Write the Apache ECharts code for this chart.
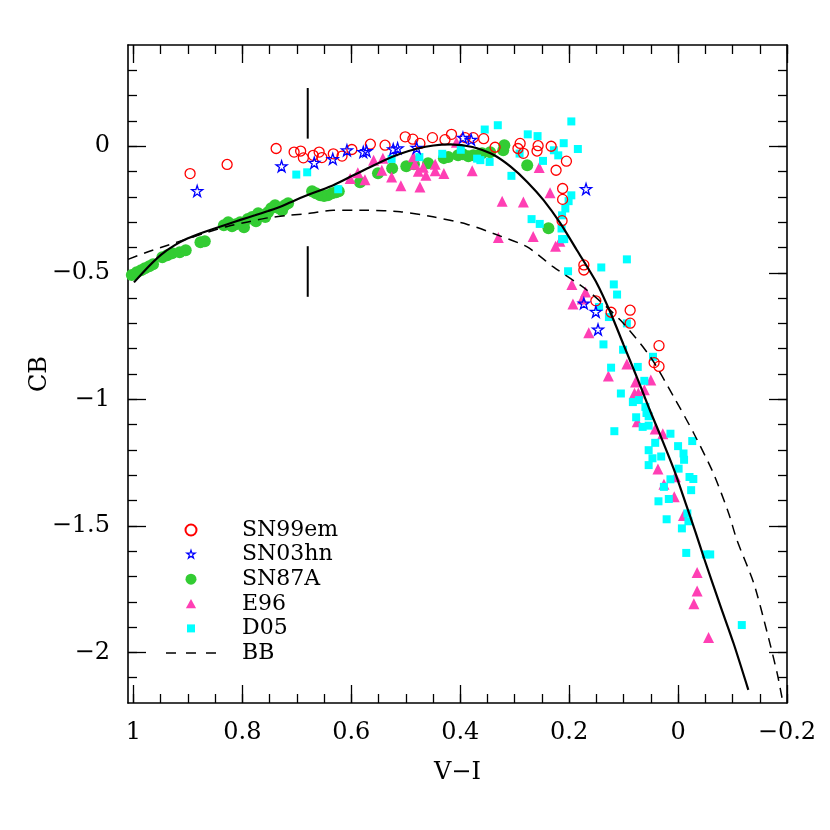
<!DOCTYPE html>
<html>
<head>
<meta charset="utf-8">
<script src="https://cdn.jsdelivr.net/npm/echarts@6/dist/echarts.min.js"></script>
<style>
  html, body { margin: 0; padding: 0; background: #fff; }
  #chart { width: 830px; height: 830px; }
</style>
</head>
<body>
<div id="chart"></div>
<script>
var sn99em = [
  [0.896,-0.108],[0.828,-0.072],[0.738,-0.009],[0.705,-0.023],[0.693,-0.019],[0.688,-0.046],
  [0.670,-0.036],[0.659,-0.023],[0.654,-0.045],[0.633,-0.030],[0.617,-0.039],[0.599,-0.013],
  [0.565,0.008],[0.538,0.004],[0.501,0.037],[0.487,0.028],[0.474,0.011],[0.451,0.034],
  [0.428,0.026],[0.416,0.047],[0.391,0.034],[0.376,0.034],[0.357,0.030],[0.336,-0.004],
  [0.290,0.011],[0.294,-0.009],[0.284,-0.028],[0.257,0.002],[0.259,-0.019],[0.233,0.000],
  [0.205,-0.059],[0.224,-0.095],[0.212,-0.167],[0.212,-0.210],[0.213,-0.294],[0.173,-0.469],
  [0.173,-0.489],[0.151,-0.611],[0.123,-0.656],[0.088,-0.648],[0.088,-0.699],[0.035,-0.788],
  [0.044,-0.855],[0.035,-0.870]
]
var sn03hn = [
  [0.883,-0.177],[0.728,-0.079],[0.668,-0.065],[0.634,-0.050],[0.608,-0.016],[0.578,-0.023],
  [0.572,-0.019],[0.523,-0.012],[0.515,-0.008],[0.480,-0.006],[0.395,0.034],[0.380,0.026],
  [0.169,-0.169],[0.173,-0.621],[0.151,-0.654],[0.147,-0.724]
]
var sn87a = [
  [1.003,-0.509],[0.994,-0.498],[0.986,-0.490],[0.979,-0.482],[0.971,-0.474],[0.964,-0.466],
  [0.947,-0.439],[0.938,-0.431],[0.929,-0.423],[0.915,-0.419],[0.904,-0.411],[0.877,-0.379],
  [0.869,-0.375],[0.834,-0.312],[0.826,-0.300],[0.819,-0.316],[0.812,-0.308],[0.804,-0.300],
  [0.797,-0.320],[0.790,-0.288],[0.782,-0.280],[0.775,-0.296],[0.771,-0.265],[0.764,-0.273],
  [0.758,-0.280],[0.753,-0.261],[0.747,-0.245],[0.740,-0.233],[0.733,-0.245],[0.727,-0.253],
  [0.722,-0.233],[0.716,-0.225],[0.672,-0.178],[0.665,-0.186],[0.657,-0.194],[0.650,-0.197],
  [0.643,-0.194],[0.635,-0.186],[0.628,-0.182],[0.623,-0.178],[0.584,-0.142],[0.551,-0.107],
  [0.525,-0.087],[0.499,-0.079],[0.485,-0.071],[0.459,-0.067],[0.430,-0.047],[0.422,-0.043],
  [0.404,-0.036],[0.395,-0.032],[0.385,-0.040],[0.376,-0.036],[0.367,-0.036],[0.360,-0.028],
  [0.345,-0.024],[0.321,-0.016],[0.319,0.004],[0.277,-0.075],[0.238,-0.324]
]
var e96 = [
  [0.602,-0.128],[0.588,-0.105],[0.575,-0.132],[0.559,-0.055],[0.544,-0.095],[0.542,-0.047],
  [0.526,-0.122],[0.509,-0.156],[0.486,-0.042],[0.483,-0.071],[0.477,-0.099],[0.468,-0.083],
  [0.474,-0.161],[0.463,-0.115],[0.446,-0.071],[0.446,-0.097],[0.430,-0.108],[0.407,0.016],
  [0.378,-0.097],[0.323,-0.217],[0.330,-0.361],[0.284,-0.220],[0.266,-0.357],[0.255,-0.084],
  [0.235,-0.184],[0.225,-0.395],[0.217,-0.375],[0.195,-0.546],[0.170,-0.576],[0.176,-0.604],
  [0.193,-0.623],[0.164,-0.737],[0.094,-0.860],[0.128,-0.908],[0.078,-0.932],[0.062,-0.962],
  [0.050,-0.924],[0.080,-0.976],[0.073,-0.975],[0.075,-1.089],[0.042,-1.117],[0.028,-1.136],
  [0.037,-1.275],[0.005,-1.306],[0.026,-1.336],[0.007,-1.385],[-0.010,-1.459],[-0.035,-1.684],
  [-0.035,-1.757],[-0.029,-1.808],[-0.056,-1.941]
]
var d05 = [
  [0.624,-0.170],[0.701,-0.112],[0.681,-0.103],[0.526,-0.050],[0.475,-0.043],[0.433,-0.030],
  [0.399,-0.014],[0.355,0.066],[0.331,0.083],[0.369,-0.049],[0.363,-0.055],[0.346,-0.062],
  [0.306,-0.117],[0.291,-0.029],[0.276,0.047],[0.258,0.040],[0.248,-0.058],[0.228,-0.016],
  [0.220,-0.036],[0.210,0.012],[0.196,0.098],[0.184,-0.011],[0.196,-0.194],[0.201,-0.217],
  [0.207,-0.246],[0.213,-0.273],[0.269,-0.288],[0.254,-0.307],[0.214,-0.325],[0.213,-0.367],
  [0.209,-0.367],[0.202,-0.494],[0.141,-0.479],[0.094,-0.447],[0.118,-0.546],[0.112,-0.586],
  [0.145,-0.635],[0.127,-0.675],[0.094,-0.700],[0.137,-0.783],[0.101,-0.804],[0.046,-0.832],
  [0.123,-0.875],[0.074,-0.872],[0.062,-0.927],[0.105,-0.977],[0.083,-1.011],[0.072,-1.003],
  [0.060,-1.030],[0.058,-1.054],[0.077,-1.071],[0.054,-1.067],[0.065,-1.109],[0.054,-1.104],
  [0.117,-1.126],[0.014,-1.136],[-0.026,-1.165],[0.042,-1.172],[0.000,-1.185],[0.054,-1.201],
  [-0.010,-1.214],[0.047,-1.233],[0.031,-1.226],[-0.011,-1.239],[0.054,-1.260],[-0.001,-1.274],
  [-0.021,-1.307],[-0.028,-1.315],[0.014,-1.316],[0.026,-1.346],[-0.024,-1.359],[0.017,-1.394],
  [0.036,-1.403],[-0.017,-1.451],[-0.019,-1.482],[0.021,-1.474],[-0.007,-1.510],[-0.015,-1.607],
  [-0.051,-1.613],[-0.059,-1.613],[-0.117,-1.892]
]
// blackbody curve (dashed)
var bbCurve = [
  [1.010,-0.447],[0.973,-0.417],[0.937,-0.391],[0.900,-0.365],[0.863,-0.339],[0.826,-0.316],
  [0.790,-0.299],[0.753,-0.283],[0.716,-0.273],[0.679,-0.266],[0.633,-0.253],[0.571,-0.253],
  [0.510,-0.259],[0.450,-0.279],[0.388,-0.308],[0.339,-0.345],[0.277,-0.398],[0.229,-0.477],
  [0.167,-0.569],[0.106,-0.687],[0.051,-0.832],[0.008,-0.990],[-0.029,-1.135],[-0.065,-1.293],
  [-0.093,-1.451],[-0.108,-1.556],[-0.139,-1.727],[-0.164,-1.925],[-0.182,-2.083],[-0.191,-2.181]
]
// solid fit curve
var fitCurve = [
  [0.999,-0.538],[0.973,-0.477],[0.949,-0.428],[0.924,-0.391],[0.900,-0.364],[0.875,-0.343],
  [0.851,-0.325],[0.826,-0.307],[0.802,-0.290],[0.777,-0.273],[0.753,-0.256],[0.728,-0.237],
  [0.704,-0.214],[0.679,-0.192],[0.663,-0.179],[0.633,-0.154],[0.602,-0.121],[0.571,-0.088],
  [0.541,-0.057],[0.510,-0.030],[0.480,-0.010],[0.449,0.003],[0.418,0.007],[0.388,0.001],
  [0.369,-0.008],[0.339,-0.034],[0.308,-0.080],[0.277,-0.141],[0.247,-0.213],[0.216,-0.305],
  [0.186,-0.410],[0.149,-0.542],[0.124,-0.658],[0.100,-0.785],[0.075,-0.916],[0.060,-0.998],
  [0.048,-1.063],[0.033,-1.140],[0.008,-1.275],[-0.013,-1.405],[-0.032,-1.525],[-0.048,-1.630],
  [-0.078,-1.818],[-0.102,-1.965],[-0.129,-2.148]
]
var markTop = [[0.68,0.23],[0.68,0.03]]
var markBottom = [[0.68,-0.395],[0.68,-0.595]]

var xMajorTicks = [1,0.8,0.6,0.4,0.2,0,-0.2]
var xMinorTicks = [1,0.95,0.9,0.85,0.8,0.75,0.7,0.65,0.6,0.55,0.5,0.45,0.4,0.35,0.3,0.25,0.2,0.15,0.1,0.05,0,-0.05,-0.1,-0.15,-0.2]
var yMajorTicks = [0,-0.5,-1,-1.5,-2]
var yMinorTicks = [0.3,0.2,0.1,0,-0.1,-0.2,-0.3,-0.4,-0.5,-0.6,-0.7,-0.8,-0.9,-1,-1.1,-1.2,-1.3,-1.4,-1.5,-1.6,-1.7,-1.8,-1.9,-2,-2.1]

var FONT = 'DejaVu Serif'
var starPath = 'path://M50,2 L61,36 L97,36 L68,57 L79,92 L50,71 L21,92 L32,57 L3,36 L39,36 Z'
// legend icons: leading moveTo's only fix the icon's box so the mark keeps its size
var triIcon = 'path://M0,0 M11,11 M5.5,0.8 L10.6,10 L0.4,10 Z'
var sqIcon = 'path://M0,0 M11,11 M1.5,1.5 L9.5,1.5 L9.5,9.5 L1.5,9.5 Z'
var starIcon = 'path://M0,0 M110,110 M55,10 L65,40 L97,40 L71,59 L81,90 L55,71 L29,90 L39,59 L13,40 L45,40 Z'
var dashIcon = 'path://M0,0 M50,11 M0,4.7 L10,4.7 L10,6.3 L0,6.3 Z M20,4.7 L30,4.7 L30,6.3 L20,6.3 Z M40,4.7 L50,4.7 L50,6.3 L40,6.3 Z'

function fmt (v) {
  return v < 0 ? '\u2212' + Math.abs(v) : String(v)
}

function xAx (pos, major, labels) {
  return {
    type: 'value', position: pos, inverse: true, min: -0.2, max: 1.01,
    splitLine: { show: false },
    axisLine: { show: major, onZero: false, lineStyle: { color: '#000', width: 1.6 } },
    axisTick: { show: true, inside: true, length: major ? 18 : 9,
      customValues: major ? xMajorTicks : xMinorTicks,
      lineStyle: { color: '#000', width: 1.3 } },
    axisLabel: { show: labels, customValues: xMajorTicks, formatter: fmt, margin: 18,
      color: '#000', fontFamily: FONT, fontSize: 24 },
    name: labels ? 'V\u2212I' : '', nameLocation: 'middle', nameGap: 58,
    nameTextStyle: { color: '#000', fontFamily: FONT, fontSize: 24 }
  }
}
function yAx (pos, major, labels) {
  return {
    type: 'value', position: pos, min: -2.2, max: 0.4,
    splitLine: { show: false },
    axisLine: { show: major, onZero: false, lineStyle: { color: '#000', width: 1.6 } },
    axisTick: { show: true, inside: true, length: major ? 18 : 9,
      customValues: major ? yMajorTicks : yMinorTicks,
      lineStyle: { color: '#000', width: 1.3 } },
    axisLabel: { show: labels, customValues: yMajorTicks, formatter: fmt, margin: 18,
      color: '#000', fontFamily: FONT, fontSize: 24 },
    name: labels ? 'CB' : '', nameLocation: 'middle', nameGap: 76, nameMoveOverlap: false,
    nameTextStyle: { color: '#000', fontFamily: FONT, fontSize: 24 }
  }
}

var option = {
  animation: false,
  backgroundColor: '#fff',
  grid: { left: 128, top: 45, right: 43, bottom: 127 },
  xAxis: [xAx('bottom', true, true), xAx('bottom', false, false), xAx('top', true, false), xAx('top', false, false)],
  yAxis: [yAx('left', true, true), yAx('left', false, false), yAx('right', true, false), yAx('right', false, false)],
  legend: {
    orient: 'vertical', left: 161, top: 514,
    itemWidth: 50, itemHeight: 11, itemGap: 2.6,
    data: [
      { name: 'SN99em' },
      { name: 'SN03hn', icon: starIcon, itemStyle: { borderWidth: 1.2 } },
      { name: 'SN87A' },
      { name: 'E96', icon: triIcon }, { name: 'D05', icon: sqIcon },
      { name: 'BB', icon: dashIcon, itemStyle: { color: '#000' } }
    ],
    textStyle: { color: '#000', fontFamily: FONT, fontSize: 22, lineHeight: 22, padding: [0, 0, 0, 21] }
  },
  series: [
    { name: 'SN87A', type: 'scatter', data: sn87a, symbol: 'circle', symbolSize: 12,
      itemStyle: { color: '#33cc33', opacity: 1 } },
    { name: 'E96', type: 'scatter', data: e96, symbol: 'triangle', symbolSize: 11,
      itemStyle: { color: '#ff3fb4', opacity: 1 } },
    { name: 'D05', type: 'scatter', data: d05, symbol: 'rect', symbolSize: 8,
      itemStyle: { color: '#00ffff', opacity: 1 } },
    { name: 'SN99em', type: 'scatter', data: sn99em, symbol: 'circle', symbolSize: 10,
      itemStyle: { color: 'rgba(0,0,0,0)', borderColor: '#ff0000', borderWidth: 1.3, opacity: 1 } },
    { name: 'SN03hn', type: 'scatter', data: sn03hn, symbol: starPath, symbolSize: 11,
      itemStyle: { color: 'rgba(0,0,0,0)', borderColor: '#0000ff', borderWidth: 1.3, opacity: 1 } },
    { name: 'BB', type: 'line', data: bbCurve, symbol: 'none', showSymbol: false, smooth: 0.25, z: 5,
      lineStyle: { color: '#000', width: 1.5, type: [10, 7] }, itemStyle: { color: '#000' } },
    { name: 'fit', type: 'line', data: fitCurve, symbol: 'none', showSymbol: false, smooth: 0.25, z: 5,
      lineStyle: { color: '#000', width: 2.2 } },
    { name: 'markTop', type: 'line', data: markTop, symbol: 'none', z: 5,
      lineStyle: { color: '#000', width: 2 } },
    { name: 'markBottom', type: 'line', data: markBottom, symbol: 'none', z: 5,
      lineStyle: { color: '#000', width: 2 } }
  ]
}

var chart = echarts.init(document.getElementById('chart'))
chart.setOption(option)
</script>
</body>
</html>
